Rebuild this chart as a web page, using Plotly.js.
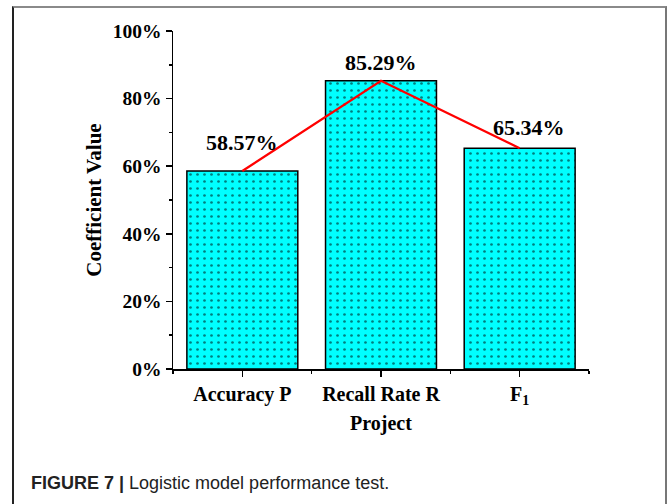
<!DOCTYPE html>
<html>
<head>
<meta charset="utf-8">
<script src="https://cdn.plot.ly/plotly-3.0.1.min.js"></script>
<style>
  html, body { margin: 0; padding: 0; background: #fff; }
  #wrap { position: relative; width: 672px; height: 504px; overflow: hidden; }
  #chart { position: absolute; left: 0; top: 0; width: 672px; height: 504px; }
  #frame { position: absolute; left: 12px; top: 6px; width: 655px; height: 520px;
           border-left: 2px solid #222; border-top: 2px solid #8a8a8a; border-right: 2px solid #777;
           pointer-events: none; box-sizing: border-box; }
</style>
</head>
<body>
<div id="wrap">
  <div id="chart"></div>
  <div id="frame"></div>
</div>
<script>
// ---- data ----
const categories = ["Accuracy P", "Recall Rate R", "F<sub>1</sub>"];
const values = [0.5857, 0.8529, 0.6534];
const valueLabels = ["58.57%", "85.29%", "65.34%"];
const yTickVals = [0, 0.2, 0.4, 0.6, 0.8, 1.0];
const yTickText = ["0%", "20%", "40%", "60%", "80%", "100%"];

// ---- label placement (style, not data) ----
const labelYShift = [29, 18, 21];
const labelXShift = [0, 0, 9];

const xIdx = categories.map((c, i) => i);
const serif = "'Liberation Serif', 'Times New Roman', serif";

const barTrace = {
  type: "bar",
  x: xIdx,
  y: values,
  width: 0.8,
  marker: {
    color: "#00FFFF",
    line: { color: "#000", width: 1.5 },
    pattern: { shape: ".", fillmode: "overlay", fgcolor: "#000", bgcolor: "#00FFFF", size: 7, solidity: 0.12 }
  },
  hoverinfo: "skip",
  showlegend: false
};

const lineTrace = {
  type: "scatter",
  mode: "lines",
  x: xIdx,
  y: values,
  line: { color: "#FF0000", width: 2.2 },
  hoverinfo: "skip",
  showlegend: false
};

const annotations = values.map((v, i) => ({
  x: xIdx[i], y: v, xref: "x", yref: "y",
  text: valueLabels[i], showarrow: false,
  xanchor: "center", yanchor: "middle",
  yshift: labelYShift[i], xshift: labelXShift[i],
  font: { family: serif, size: 22, color: "#000", weight: "bold" }
}));

annotations.push({
  xref: "paper", yref: "paper", x: (29 - 173) / 416, y: (369 - 483) / 338,
  xanchor: "left", yanchor: "middle", showarrow: false, align: "left",
  text: "<b>FIGURE 7 |</b> Logistic model performance test.",
  font: { family: "'Liberation Sans', Arial, sans-serif", size: 18, color: "#222" }
});

const layout = {
  width: 672, height: 504,
  margin: { l: 173, r: 83, t: 31, b: 135 },
  paper_bgcolor: "rgba(0,0,0,0)",
  plot_bgcolor: "rgba(0,0,0,0)",
  font: { family: serif, color: "#000" },
  xaxis: {
    range: [-0.5, 2.5],
    tickmode: "array", tickvals: xIdx, ticktext: categories,
    ticks: "outside", ticklen: 6, tickwidth: 1.5, tickcolor: "#000",
    minor: { tick0: 0.5, dtick: 1, ticks: "outside", ticklen: 3, tickwidth: 1.5, tickcolor: "#000" },
    showline: true, linecolor: "#000", linewidth: 1.5,
    showgrid: false, zeroline: false,
    tickfont: { family: serif, size: 20, color: "#000", weight: "bold" },
    title: { text: "Project", font: { family: serif, size: 20, color: "#000", weight: "bold" }, standoff: 9 },
    fixedrange: true
  },
  yaxis: {
    range: [0, 1],
    tickmode: "array", tickvals: yTickVals, ticktext: yTickText,
    ticks: "outside", ticklen: 6, tickwidth: 1.5, tickcolor: "#000",
    minor: { dtick: 0.1, tick0: 0, ticks: "outside", ticklen: 3, tickwidth: 1.5, tickcolor: "#000" },
    showline: true, linecolor: "#000", linewidth: 1.5,
    showgrid: false, zeroline: false,
    tickfont: { family: serif, size: 19.5, color: "#000", weight: "bold" },
    title: { text: "Coefficient Value", font: { family: serif, size: 21, color: "#000", weight: "bold" }, standoff: 5 },
    fixedrange: true
  },
  annotations: annotations
};

Plotly.newPlot("chart", [barTrace, lineTrace], layout, { displayModeBar: false, staticPlot: true });
</script>
</body>
</html>
